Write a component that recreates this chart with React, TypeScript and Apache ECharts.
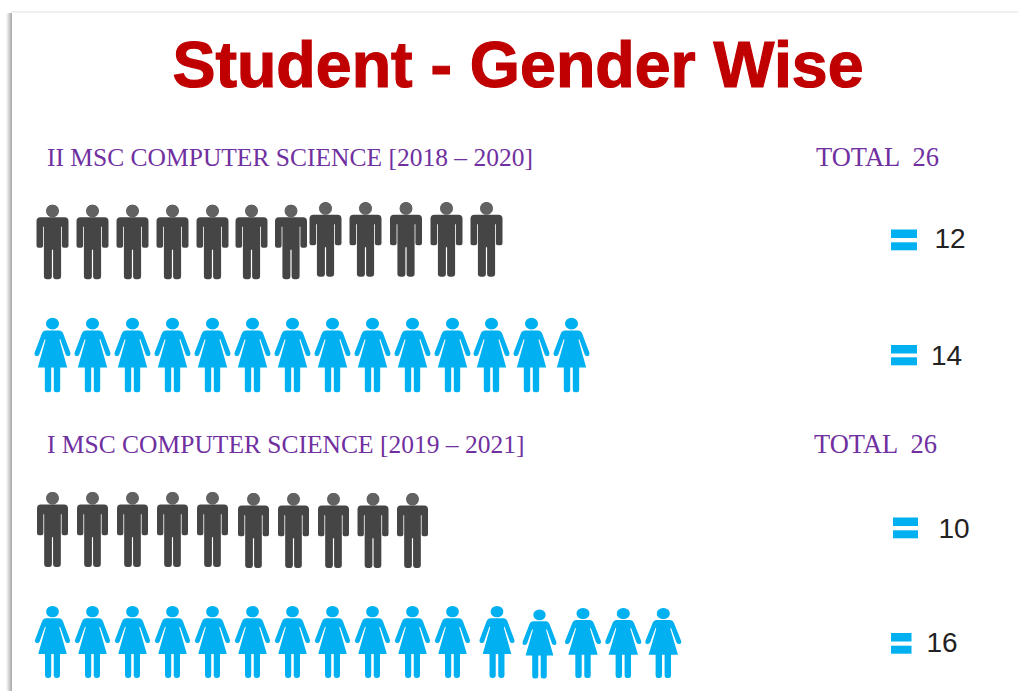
import React, { useEffect, useRef } from "react";
import * as echarts from "echarts";

// ---- data ----
const titleText = "Student - Gender Wise";
const classNames = ["II MSC COMPUTER SCIENCE [2018 – 2020]", "I MSC COMPUTER SCIENCE [2019 – 2021]"];
const classTotals = [26, 26];
const genders = ["Male", "Female"];
const maleCounts = [12, 10];
const femaleCounts = [14, 16];

// ---- layout: small hand-placement drift of each icon in the source picture (px) ----
const nudgeMale0 = [[0,0],[0,0],[0,0],[0,0],[0,0],[-1,0],[-1.5,0],[-7,-2.6],[-7,-2.6],[-6.5,-2.6],[-6,-2.6],[-6,-2.6]];
const nudgeFemale0 = [[0,0],[0,0],[0,0],[0,0],[0,0],[0,0],[0,0],[0,0],[0,0],[0,0],[0,0],[-1,0],[-1,0],[-1,0]];
const nudgeMale1 = [[0,-1],[0,-1],[0,-1],[0,-1],[0,-1],[1,0],[1,0],[1,0],[0.5,0],[0,0]];
const nudgeFemale1 = [[0,0],[0,0],[0,0],[0,0],[0,0],[0,0],[0,0],[0,0],[0,0],[0,0],[0,0],[4.5,0],[7,2],[10.5,1],[10.8,1],[10.8,1]];

const MAN =
  "path://M16 0a6 6 0 1 1 0 12a6 6 0 1 1 0-12ZM4 12.5H28Q32 12.5 32 16.5V41Q32 43 30 43H27.3Q25.4 43 25.4 41V22H24.6V71.5Q24.6 74.5 21.5 74.5H19.5Q16.6 74.5 16.6 71.5V45H15.4V71.5Q15.4 74.5 12.5 74.5H10.5Q7.4 74.5 7.4 71.5V22H6.6V41Q6.6 43 4.7 43H2Q0 43 0 41V16.5Q0 12.5 4 12.5Z";
const WOMAN =
  "path://M18 0a6.4 5.8 0 1 1 0 11.6a6.4 5.8 0 1 1 0-11.6ZM11.5 12.7H24.5Q27.4 12.7 28.8 16L35.8 34.5Q36.6 37.3 34.5 38Q32 38.4 31.2 36.5L25.7 21L25 22L32.7 49.3H25.7V71.5Q25.7 74 23.2 74H21.8Q19.3 74 19.3 71.5V49.3H16.7V71.5Q16.7 74 14.2 74H12.8Q10.3 74 10.3 71.5V49.3H3.3L11 22L10.3 21L4.8 36.5Q4 38.4 1.5 38Q-0.6 37.3 0.2 34.5L7.2 16Q8.6 12.7 11.5 12.7Z";

const BLUE = "#00B0F0";
const DARK = "#454545";
const HEAD = "#626262";
const PURPLE = "#7030A0";

function icons(count: number, row: number, nudge: number[][], size: number[], overrides: Record<number, number[]> = {}) {
  const out: any[] = [];
  for (let i = 0; i < count; i++) {
    const item: any = { value: [i + 1, row], symbolOffset: nudge[i] || [0, 0], symbolSize: overrides[i] || size };
    out.push(item);
  }
  return out;
}

function heads(count: number, row: number, nudge: number[][], h: number) {
  const out: any[] = [];
  for (let i = 0; i < count; i++) {
    const n = nudge[i] || [0, 0];
    out.push({ value: [i + 1, row], symbolOffset: [n[0], n[1] - h / 2 + 6.3] });
  }
  return out;
}

function equalsSign(x: number, y1: number, y2: number, w: number) {
  return [
    { type: "rect", x, y: y1, shape: { width: w, height: 8.5 }, style: { fill: BLUE } },
    { type: "rect", x, y: y2, shape: { width: w, height: 8 }, style: { fill: BLUE } },
  ];
}

function valueText(text: string, x: number, centerY: number) {
  return {
    type: "text",
    x,
    y: centerY,
    style: { text, fill: "#222222", font: '28px "Liberation Sans"', verticalAlign: "middle" },
  };
}

function heading(text: string, x: number, y: number, size: number) {
  return {
    type: "text",
    x,
    y,
    style: { text, fill: PURPLE, font: `${size}px "Liberation Serif"`, verticalAlign: "middle" },
  };
}

export default function App() {
  const ref = useRef<HTMLDivElement>(null);
  useEffect(() => {
    const chart = echarts.init(ref.current!, null, { renderer: "svg" });
    chart.setOption({
      animation: false,
      backgroundColor: "#ffffff",
      title: {
        text: titleText,
        left: 513,
        top: 24,
        textAlign: "center",
        textStyle: {
          color: "#C00000",
          fontFamily: "Liberation Sans",
          fontWeight: "bold",
          fontSize: 64.5,
          lineHeight: 72,
          textBorderColor: "#C00000",
          textBorderWidth: 1.2,
        },
      },
      grid: [
        { left: 12.5, width: 1000, top: 185.5, height: 226, outerBoundsMode: "none" },
        { left: 12.5, width: 1000, top: 474.75, height: 223, outerBoundsMode: "none" },
      ],
      xAxis: [
        { type: "value", gridIndex: 0, min: 0, max: 25, show: false },
        { type: "value", gridIndex: 1, min: 0, max: 25, show: false },
      ],
      yAxis: [
        { type: "category", gridIndex: 0, data: genders, inverse: true, show: false },
        { type: "category", gridIndex: 1, data: genders, inverse: true, show: false },
      ],
      series: [
        { type: "scatter", name: "II MSC Male", xAxisIndex: 0, yAxisIndex: 0, symbol: MAN, itemStyle: { color: DARK, opacity: 1 }, data: icons(maleCounts[0], 0, nudgeMale0, [32, 74.5]) },
        { type: "scatter", name: "II MSC Female", xAxisIndex: 0, yAxisIndex: 0, symbol: WOMAN, itemStyle: { color: BLUE, opacity: 1 }, data: icons(femaleCounts[0], 1, nudgeFemale0, [36, 74.5]) },
        { type: "scatter", name: "I MSC Male", xAxisIndex: 1, yAxisIndex: 1, symbol: MAN, itemStyle: { color: DARK, opacity: 1 }, data: icons(maleCounts[1], 0, nudgeMale1, [31, 75]) },
        { type: "scatter", name: "I MSC Female", xAxisIndex: 1, yAxisIndex: 1, symbol: WOMAN, itemStyle: { color: BLUE, opacity: 1 }, data: icons(femaleCounts[1], 1, nudgeFemale1, [35, 72], { 12: [34, 69], 13: [36, 70], 14: [36, 70], 15: [36, 70] }) },
        { type: "scatter", name: "II MSC Male head", xAxisIndex: 0, yAxisIndex: 0, symbol: "circle", symbolSize: 12.8, silent: true, z: 3, itemStyle: { color: HEAD, opacity: 1 }, data: heads(maleCounts[0], 0, nudgeMale0, 74.5) },
        { type: "scatter", name: "I MSC Male head", xAxisIndex: 1, yAxisIndex: 1, symbol: "circle", symbolSize: 12.8, silent: true, z: 3, itemStyle: { color: HEAD, opacity: 1 }, data: heads(maleCounts[1], 0, nudgeMale1, 75) },
      ],
      graphic: [
        // card edge
        {
          type: "rect", x: 6, y: 13, z: -1, shape: { width: 6, height: 678 },
          style: { fill: new echarts.graphic.LinearGradient(0, 0, 1, 0, [{ offset: 0, color: "rgba(150,150,150,0)" }, { offset: 1, color: "rgba(150,150,150,0.85)" }]) },
        },
        {
          type: "rect", x: 11, y: 11, z: -1, shape: { width: 1007, height: 2 },
          style: { fill: "#f0f0f0" },
        },
        heading(classNames[0], 47, 157, 25.5),
        heading(`TOTAL  ${classTotals[0]}`, 816, 157, 26.5),
        heading(classNames[1], 47, 444, 25.5),
        heading(`TOTAL  ${classTotals[1]}`, 814, 444, 26.5),
        ...equalsSign(891, 229.5, 242.3, 26),
        valueText(String(maleCounts[0]), 934.5, 238.5),
        ...equalsSign(891, 345, 357.3, 26),
        valueText(String(femaleCounts[0]), 931, 355),
        ...equalsSign(893, 517.5, 530.3, 25),
        valueText(String(maleCounts[1]), 938.5, 528),
        ...equalsSign(891, 633, 645.7, 20.5),
        valueText(String(femaleCounts[1]), 926.5, 642.5),
      ],
    });
    return () => chart.dispose();
  }, []);
  return <div ref={ref} style={{ position: "fixed", left: 0, top: 0, width: 1018, height: 691 }} />;
}
